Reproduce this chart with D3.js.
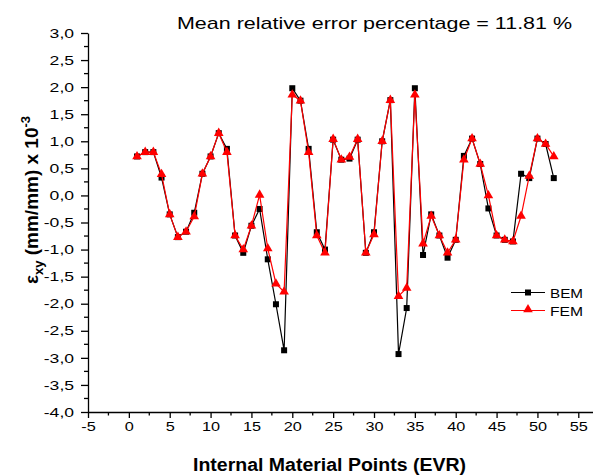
<!DOCTYPE html>
<html>
<head>
<meta charset="utf-8">
<script src="https://cdn.jsdelivr.net/npm/d3@7"></script>
<style>
  body { margin: 0; background: #fff; }
  text { font-family: "Liberation Sans", Arial, sans-serif; }
</style>
</head>
<body>
<div id="chart"></div>
<script>
// strain eps_xy along the internal points, BEM vs FEM

var points = d3.range(1, 53);

var bemValues = [0.72, 0.8, 0.8, 0.33, -0.35, -0.77, -0.67, -0.32, 0.4, 0.72,
    1.15, 0.86, -0.74, -1.06, -0.56, -0.25, -1.18, -2.01, -2.86, 1.98,
    1.75, 0.86, -0.68, -1.0, 1.03, 0.66, 0.68, 1.03, -1.06, -0.68,
    1.0, 1.76, -2.93, -2.08, 1.98, -1.1, -0.35, -0.74, -1.15, -0.82,
    0.73, 1.05, 0.58, -0.24, -0.74, -0.82, -0.85, 0.4, 0.32, 1.05,
    0.95, 0.32];

var femValues = [0.72, 0.8, 0.8, 0.39, -0.35, -0.77, -0.67, -0.39, 0.4, 0.72,
    1.15, 0.8, -0.74, -1.0, -0.56, 0.01, -0.98, -1.63, -1.78, 1.86,
    1.75, 0.8, -0.74, -1.06, 1.04, 0.66, 0.71, 1.04, -1.06, -0.72,
    1.0, 1.76, -1.86, -1.71, 1.86, -0.89, -0.38, -0.74, -1.06, -0.82,
    0.66, 1.05, 0.58, 0.0, -0.74, -0.82, -0.85, -0.38, 0.36, 1.05,
    0.95, 0.72];

var xTicks = d3.range(-5, 56, 5);
var yTicks = d3.range(-4, 3.01, 0.5);
var titleText = "Mean relative error percentage = 11.81 %";

var width = 593, height = 476;

var svg = d3.select("#chart").append("svg")
    .attr("width", width)
    .attr("height", height);

var xScale = d3.scaleLinear().domain([-5, 56.8]).range([88, 593]);
var yScale = d3.scaleLinear().domain([-4, 3]).range([412, 33]);

var commaFmt = function(v) { return d3.format(".1f")(v).replace(".", ",").replace("−", "-"); };

// the original picture has its text drawn wide, so stretch glyphs sideways
function widen(sel, k) {
    sel.each(function() {
        var w = this.getComputedTextLength();
        d3.select(this).attr("textLength", w * k).attr("lengthAdjust", "spacingAndGlyphs");
    });
}

// x axis
var xAxis = d3.axisBottom(xScale).tickValues(xTicks).tickSize(6).tickSizeOuter(0).tickPadding(4);
var xg = svg.append("g").attr("transform", "translate(0," + yScale(-4) + ")").call(xAxis);
xg.selectAll("text").style("font-size", "13px").attr("fill", "#000").text(function(d) { return String(d).replace("−", "-"); });
widen(xg.selectAll("text"), 1.25);
xg.selectAll("line, path").attr("stroke", "#000").attr("stroke-width", 1.3);
xg.selectAll(".minor").data(d3.range(-2.5, 56, 5)).enter().append("line")
    .attr("class", "minor")
    .attr("x1", function(d) { return xScale(d); })
    .attr("x2", function(d) { return xScale(d); })
    .attr("y1", 0).attr("y2", 3.5)
    .attr("stroke", "#000").attr("stroke-width", 1.3);

// y axis
var yAxis = d3.axisLeft(yScale).tickValues(yTicks).tickFormat(commaFmt).tickSize(7).tickSizeOuter(0).tickPadding(7);
var yg = svg.append("g").attr("transform", "translate(" + xScale(-5) + ",0)").call(yAxis);
yg.selectAll("text").style("font-size", "13px").attr("fill", "#000");
widen(yg.selectAll("text"), 1.35);
yg.selectAll("line, path").attr("stroke", "#000").attr("stroke-width", 1.3);
yg.selectAll(".minor").data(d3.range(-3.75, 3, 0.5)).enter().append("line")
    .attr("class", "minor")
    .attr("y1", function(d) { return yScale(d); })
    .attr("y2", function(d) { return yScale(d); })
    .attr("x1", 0).attr("x2", -4)
    .attr("stroke", "#000").attr("stroke-width", 1.3);

// lines
var bemData = points.map(function(p, i) { return { x: p, y: bemValues[i] }; });
var femData = points.map(function(p, i) { return { x: p, y: femValues[i] }; });

var line = d3.line()
    .x(function(d) { return xScale(d.x); })
    .y(function(d) { return yScale(d.y); });

svg.append("path").datum(bemData)
    .attr("d", line).attr("fill", "none").attr("stroke", "#000").attr("stroke-width", 1.2);

svg.selectAll(".bem").data(bemData).enter().append("rect")
    .attr("class", "bem")
    .attr("x", function(d) { return xScale(d.x) - 3; })
    .attr("y", function(d) { return yScale(d.y) - 3; })
    .attr("width", 6).attr("height", 6)
    .attr("fill", "#000");

svg.append("path").datum(femData)
    .attr("d", line).attr("fill", "none").attr("stroke", "#ff0000").attr("stroke-width", 1.2);

var tri = d3.symbol().type(d3.symbolTriangle).size(40);
svg.selectAll(".fem").data(femData).enter().append("path")
    .attr("class", "fem")
    .attr("d", tri)
    .attr("transform", function(d) { return "translate(" + xScale(d.x) + "," + yScale(d.y) + ")"; })
    .attr("fill", "#ff0000");

// legend
var legend = [
    { name: "BEM", color: "#000", y: 292.5, shape: "square" },
    { name: "FEM", color: "#ff0000", y: 310.5, shape: "triangle" }
];
legend.forEach(function(l) {
    svg.append("line").attr("x1", 511).attr("x2", 545).attr("y1", l.y).attr("y2", l.y)
        .attr("stroke", l.color).attr("stroke-width", 1.2);
    if (l.shape == "square") {
        svg.append("rect").attr("x", 525).attr("y", l.y - 3).attr("width", 6).attr("height", 6).attr("fill", l.color);
    } else {
        svg.append("path").attr("d", tri).attr("transform", "translate(528," + (l.y - 1) + ")").attr("fill", l.color);
    }
    svg.append("text").attr("x", 550).attr("y", l.y + 5).style("font-size", "13.5px")
        .attr("textLength", 33).attr("lengthAdjust", "spacingAndGlyphs").text(l.name);
});

// title
svg.append("text").attr("x", 177).attr("y", 29).style("font-size", "17px")
    .attr("textLength", 395).attr("lengthAdjust", "spacingAndGlyphs")
    .text(titleText);

// axis labels
svg.append("text")
    .attr("x", 193).attr("y", 471)
    .style("font-size", "17.5px").style("font-weight", "bold")
    .attr("textLength", 273).attr("lengthAdjust", "spacingAndGlyphs")
    .text("Internal Material Points (EVR)");

var yl = svg.append("text")
    .attr("transform", "translate(38,200) rotate(-90)")
    .attr("text-anchor", "middle")
    .style("font-size", "19px").style("font-weight", "bold");
yl.append("tspan").text("ε");
yl.append("tspan").attr("dy", 5).style("font-size", "13px").text("xy");
yl.append("tspan").attr("dy", -5).text(" (mm/mm) x 10");
yl.append("tspan").attr("dy", -8).style("font-size", "13px").text("-3");
</script>
</body>
</html>
